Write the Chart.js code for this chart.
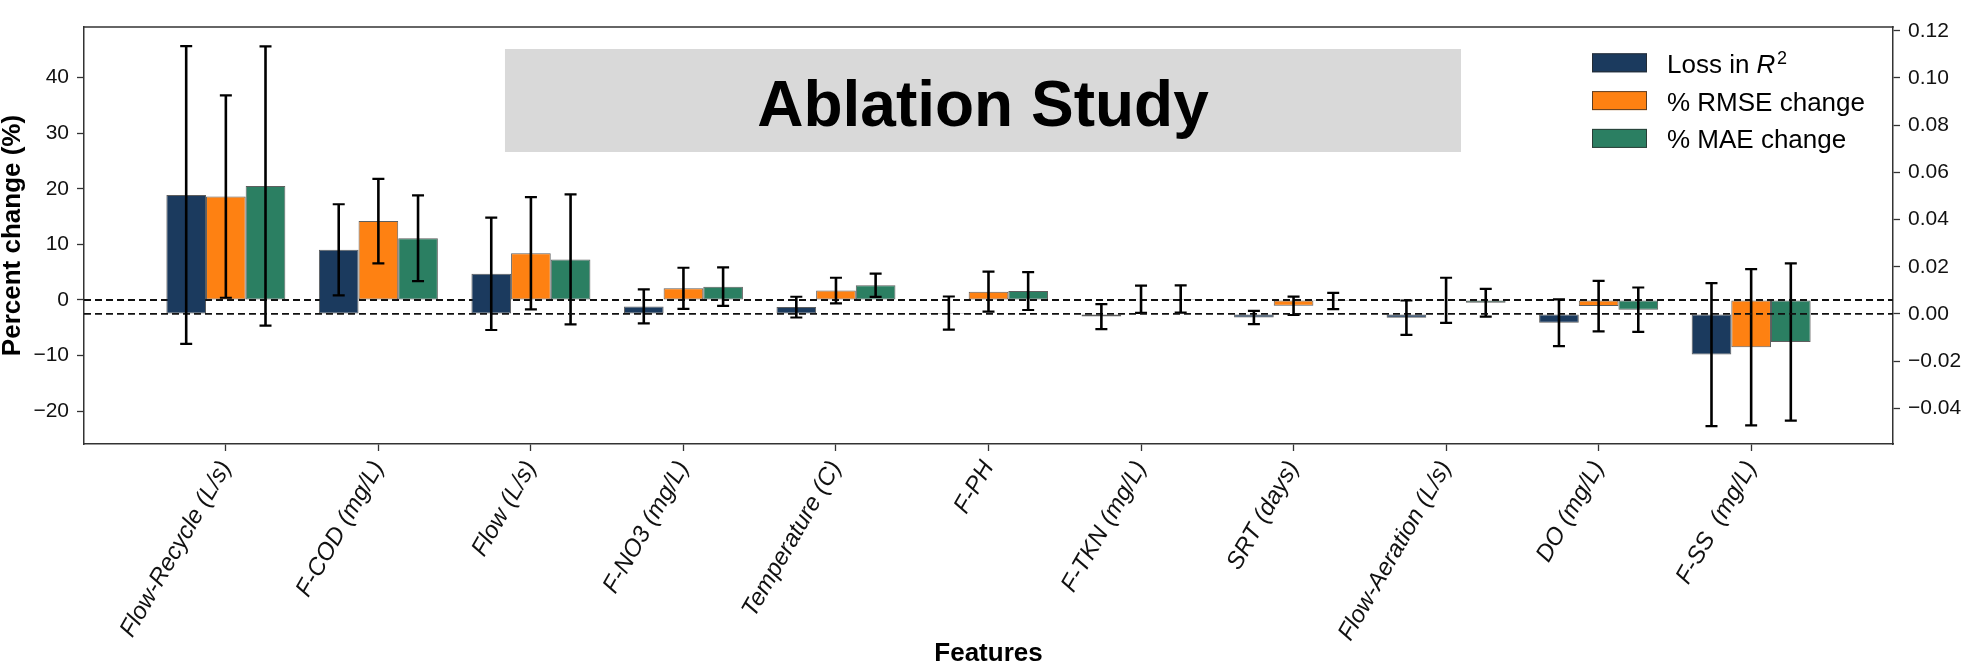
<!DOCTYPE html>
<html>
<head>
<meta charset="utf-8">
<script src="https://cdn.jsdelivr.net/npm/chart.js@4/dist/chart.umd.min.js"></script>
<style>
html,body{margin:0;padding:0;background:#fff;}
canvas{display:block;}
</style>
</head>
<body>
<canvas id="c" width="1972" height="667"></canvas>
<script>
// ---------- data ----------
const categories = ['Flow-Recycle (L/s)', 'F-COD (mg/L)', 'Flow (L/s)', 'F-NO3 (mg/L)', 'Temperature (C)', 'F-PH',
  'F-TKN (mg/L)', 'SRT (days)', 'Flow-Aeration (L/s)', 'DO (mg/L)', 'F-SS  (mg/L)'];
const seriesNames = ['Loss in R2', '% RMSE change', '% MAE change'];
const lossR2    = [0.0504, 0.0272, 0.0170, 0.0032, 0.0029, 0.0004, -0.0011, -0.0015, -0.0016, -0.0037, -0.0172];
const lossR2Err = [0.0631, 0.0193, 0.0238, 0.0072, 0.0044, 0.0070, 0.0053, 0.0028, 0.0073, 0.0099, 0.0303];
const rmseChange    = [18.6, 14.2, 8.4, 2.1, 1.7, 1.5, 0.12, -1.05, -0.05, -1.1, -8.5];
const rmseChangeErr = [18.2, 7.6, 10.1, 3.7, 2.3, 3.6, 2.45, 1.65, 4.05, 4.55, 14.05];
const maeChange     = [20.5, 11.1, 7.3, 2.4, 2.65, 1.6, 0.18, -0.18, -0.5, -1.75, -7.55];
const maeChangeErr  = [25.1, 7.7, 11.7, 3.45, 2.1, 3.4, 2.45, 1.45, 2.5, 4.0, 14.15];
const leftTicks  = [-20, -10, 0, 10, 20, 30, 40];
const rightTicks = [-0.04, -0.02, 0.00, 0.02, 0.04, 0.06, 0.08, 0.10, 0.12];
const titleText = 'Ablation Study';
const xTitle = 'Features';
const yTitle = 'Percent change (%)';

// ---------- style ----------
const FONT = '"Liberation Sans", Arial, Helvetica, sans-serif';
const colors = ['#1b3a5e', '#fe8112', '#2b7f62'];
const edge = 'rgba(40,40,40,0.75)';
const axisColor = '#333';
Chart.defaults.font.family = FONT;
Chart.defaults.color = '#111';

const minus = v => (v < 0 ? '\u2212' : '');
const fmtLeft = v => minus(v) + Math.abs(Math.round(v));
const fmtRight = v => minus(v) + Math.abs(v).toFixed(2);

function errorBars(ctx, chart, dsIndex) {
  const meta = chart.getDatasetMeta(dsIndex);
  const ds = chart.data.datasets[dsIndex];
  const ys = chart.scales[meta.yAxisID];
  ctx.save();
  ctx.strokeStyle = '#000';
  ctx.lineCap = 'butt';
  meta.data.forEach((bar, i) => {
    const v = ds.data[i].y, e = ds.errors[i];
    const x = bar.x;
    const y1 = ys.getPixelForValue(v + e), y2 = ys.getPixelForValue(v - e);
    ctx.lineWidth = 2.6;
    ctx.beginPath(); ctx.moveTo(x, y1); ctx.lineTo(x, y2); ctx.stroke();
    ctx.lineWidth = 2.2;
    ctx.beginPath();
    ctx.moveTo(x - 6, y1); ctx.lineTo(x + 6, y1);
    ctx.moveTo(x - 6, y2); ctx.lineTo(x + 6, y2);
    ctx.stroke();
  });
  ctx.restore();
}
function zeroLine(ctx, chart, scaleId) {
  const a = chart.chartArea;
  const y = chart.scales[scaleId].getPixelForValue(0);
  ctx.save();
  ctx.strokeStyle = '#111';
  ctx.lineWidth = 1.8;
  ctx.setLineDash([7, 4]);
  ctx.beginPath(); ctx.moveTo(a.left, y); ctx.lineTo(a.right, y); ctx.stroke();
  ctx.restore();
}

const decor = {
  id: 'decor',
  beforeDatasetsDraw(chart) { zeroLine(chart.ctx, chart, 'y'); },
  afterDatasetDraw(chart, args) {
    const ctx = chart.ctx;
    if (args.index === 1) {
      errorBars(ctx, chart, 2);
      errorBars(ctx, chart, 1);
      zeroLine(ctx, chart, 'y2');
    } else if (args.index === 0) {
      errorBars(ctx, chart, 0);
    }
  },
  afterDraw(chart) {
    const ctx = chart.ctx, a = chart.chartArea;
    const W = a.right - a.left, H = a.bottom - a.top;
    // top frame line
    ctx.save();
    ctx.strokeStyle = axisColor; ctx.lineWidth = 1.5;
    ctx.beginPath(); ctx.moveTo(a.left - 0.75, a.top); ctx.lineTo(a.right + 0.75, a.top); ctx.stroke();
    // title box
    const bx0 = a.left + 0.2327 * W, bx1 = a.left + 0.7612 * W;
    const by0 = a.top + 0.0528 * H, by1 = a.top + 0.2998 * H;
    ctx.fillStyle = '#d9d9d9';
    ctx.fillRect(bx0, by0, bx1 - bx0, by1 - by0);
    ctx.fillStyle = '#000';
    ctx.font = 'bold 64px ' + FONT;
    ctx.textAlign = 'center'; ctx.textBaseline = 'alphabetic';
    ctx.fillText(titleText, (bx0 + bx1) / 2, a.top + 0.2374 * H);
    // legend
    const lx = a.right - 301, boxW = 55, boxH = 19;
    const tx = lx + 75;
    ctx.textAlign = 'left';
    seriesNames.forEach((name, i) => {
      const top = a.top + 26.3 + i * 37.8;
      ctx.fillStyle = colors[i];
      ctx.fillRect(lx, top, boxW, boxH);
      ctx.strokeStyle = edge; ctx.lineWidth = 1;
      ctx.strokeRect(lx + 0.5, top + 0.5, boxW - 1, boxH - 1);
      ctx.fillStyle = '#000';
      const base = top + boxH + 0.5;
      if (i === 0) {
        ctx.font = '26px ' + FONT;
        const p1 = 'Loss in ';
        ctx.fillText(p1, tx, base);
        let x = tx + ctx.measureText(p1).width;
        ctx.font = 'italic 26px ' + FONT;
        ctx.fillText('R', x, base);
        x += ctx.measureText('R').width + 1.5;
        ctx.font = '18px ' + FONT;
        ctx.fillText('2', x, base - 9);
      } else {
        ctx.font = '26px ' + FONT;
        ctx.fillText(name, tx, base);
      }
    });
    ctx.restore();
  }
};

const seriesData = [lossR2, rmseChange, maeChange];
const seriesErr = [lossR2Err, rmseChangeErr, maeChangeErr];
const axisIds = ['y2', 'y', 'y'];

const datasets = seriesNames.map((name, k) => ({
  label: name,
  data: seriesData[k].map((v, i) => ({ x: i, y: v })),
  errors: seriesErr[k],
  yAxisID: axisIds[k],
  backgroundColor: colors[k],
  borderColor: edge,
  borderWidth: 1,
  borderSkipped: false,
  categoryPercentage: 0.78,
  barPercentage: 1.0
}));

const tickGrid = { display: true, drawOnChartArea: false, drawTicks: true, tickLength: 7, tickColor: axisColor, tickWidth: 1.3, offset: false };

new Chart(document.getElementById('c').getContext('2d'), {
  type: 'bar',
  data: { datasets },
  options: {
    responsive: false,
    animation: false,
    devicePixelRatio: 1,
    layout: { padding: { top: 27, left: 0, right: 0, bottom: 0 } },
    plugins: { legend: { display: false }, tooltip: { enabled: false }, title: { display: false } },
    scales: {
      x: {
        type: 'linear',
        min: -0.93, max: 10.93,
        offset: false,
        grid: tickGrid,
        border: { display: true, color: axisColor, width: 1.5 },
        afterBuildTicks: s => { s.ticks = categories.map((c, i) => ({ value: i })); },
        afterFit: s => { s.height = 223; },
        ticks: {
          autoSkip: false, maxRotation: 60, minRotation: 60, padding: 5,
          font: { size: 24, style: 'italic' }, color: '#111',
          callback: v => categories[v]
        },
        title: { display: true, text: xTitle, font: { size: 26, weight: 'bold', lineHeight: 1.2 }, color: '#000', padding: { top: 0, bottom: -2 } }
      },
      y: {
        type: 'linear', position: 'left',
        min: -25.9, max: 49.1,
        grid: tickGrid,
        border: { display: true, color: axisColor, width: 1.5 },
        afterBuildTicks: s => { s.ticks = leftTicks.map(v => ({ value: v })); },
        afterFit: s => { s.width = 84; },
        ticks: { padding: 8, font: { size: 21 }, color: '#111', callback: v => fmtLeft(v) },
        title: { display: true, text: yTitle, font: { size: 26, weight: 'bold', lineHeight: 1.2 }, color: '#000', padding: { top: -3, bottom: 0 } }
      },
      y2: {
        type: 'linear', position: 'right',
        min: -0.0551, max: 0.1216,
        grid: tickGrid,
        border: { display: true, color: axisColor, width: 1.5 },
        afterBuildTicks: s => { s.ticks = rightTicks.map(v => ({ value: v })); },
        afterFit: s => { s.width = 79; },
        ticks: { padding: 8, font: { size: 21 }, color: '#111', callback: v => fmtRight(v) }
      }
    }
  },
  plugins: [decor]
});
</script>
</body>
</html>
